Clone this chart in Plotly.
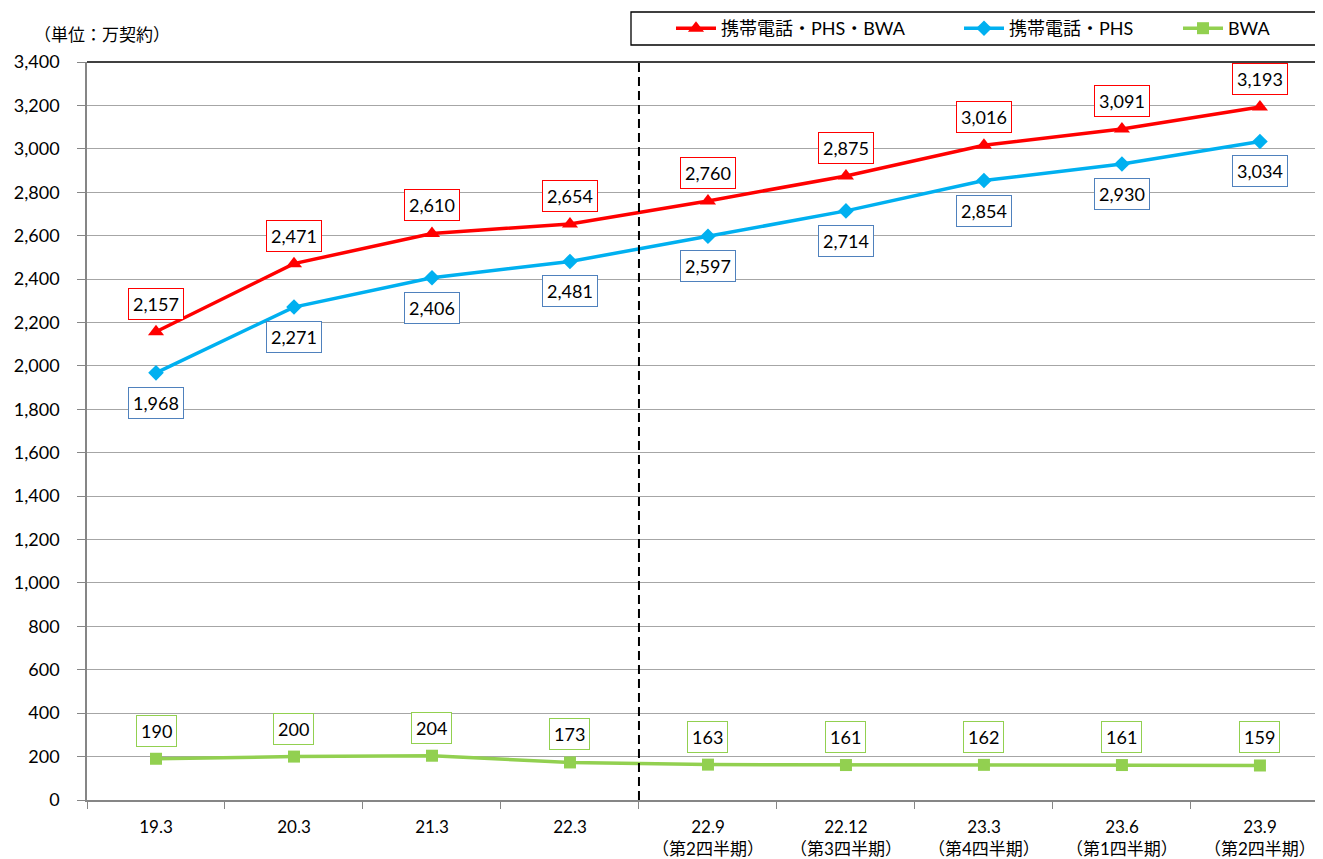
import plotly.graph_objects as go

categories = ["19.3", "20.3", "21.3", "22.3", "22.9", "22.12", "23.3", "23.6", "23.9"]
sub_labels = ["", "", "", "", "（第2四半期）", "（第3四半期）", "（第4四半期）", "（第1四半期）", "（第2四半期）"]
total = [2157, 2471, 2610, 2654, 2760, 2875, 3016, 3091, 3193]
mobile = [1968, 2271, 2406, 2481, 2597, 2714, 2854, 2930, 3034]
bwa = [190, 200, 204, 173, 163, 161, 162, 161, 159]
y_ticks = list(range(0, 3401, 200))

FONT = "Lato, 'Noto Sans CJK JP', sans-serif"
RED = "#FF0000"
BLUE = "#00B0F0"
GREEN = "#92D050"

# plot-area geometry in page pixels (page body has an 8px margin)
PX_L, PX_R, PX_T, PX_B = 87, 1323, 62, 800
def px2x(px):
    return (px - PX_L) / (PX_R - PX_L)
def px2y(py):
    return (PX_B - py) / (PX_B - PX_T)

tick_text = [c if not s else f"{c}<br>{s}" for c, s in zip(categories, sub_labels)]

fig = go.Figure()
fig.add_trace(go.Scatter(x=categories, y=total, mode="lines+markers", name="携帯電話・PHS・BWA",
                         line=dict(color=RED, width=3.5), legend="legend",
                         marker=dict(symbol="triangle-up", size=14, color=RED)))
fig.add_trace(go.Scatter(x=categories, y=mobile, mode="lines+markers", name="携帯電話・PHS",
                         line=dict(color=BLUE, width=3.5), legend="legend2",
                         marker=dict(symbol="diamond", size=12, color=BLUE)))
fig.add_trace(go.Scatter(x=categories, y=bwa, mode="lines+markers", name="BWA",
                         line=dict(color=GREEN, width=3.5), legend="legend3",
                         marker=dict(symbol="square", size=12, color=GREEN)))

annotations = []
def add_labels(vals, border, shift):
    for i, v in enumerate(vals):
        annotations.append(dict(x=i, y=v, xref="x", yref="y", text=f"{v:,}", showarrow=False,
                                yshift=shift, bgcolor="white", bordercolor=border, borderwidth=1,
                                borderpad=4, font=dict(family=FONT, size=18, color="black")))

add_labels(total, RED, 28)
add_labels(mobile, "#4F81BD", -30)
add_labels(bwa, GREEN, 28)

annotations.append(dict(x=px2x(32), y=px2y(35), xref="paper", yref="paper", text="（単位：万契約）",
                        showarrow=False, xanchor="left", yanchor="middle",
                        font=dict(family=FONT, size=17, color="black")))

leg_common = dict(orientation="h", yanchor="middle", xanchor="left", borderwidth=0,
                  bgcolor="rgba(0,0,0,0)", font=dict(family=FONT, size=18, color="black"),
                  itemwidth=40)
leg_y = px2y(28.5)

fig.update_layout(
    width=1315, height=851,
    margin=dict(l=79, r=0, t=54, b=59, autoexpand=False),
    paper_bgcolor="white", plot_bgcolor="white",
    font=dict(family=FONT, size=17, color="black"),
    showlegend=True,
    legend=dict(x=px2x(671), y=leg_y, **leg_common),
    legend2=dict(x=px2x(959), y=leg_y, **leg_common),
    legend3=dict(x=px2x(1178), y=leg_y, **leg_common),
    annotations=annotations,
    shapes=[
        dict(type="rect", xref="paper", yref="paper", x0=px2x(631), x1=px2x(1317),
             y0=px2y(45), y1=px2y(12), line=dict(color="black", width=1.3),
             fillcolor="rgba(0,0,0,0)", layer="below"),
        dict(type="line", xref="x", yref="paper", x0=3.5, x1=3.5, y0=0, y1=1,
             line=dict(color="black", width=2, dash="9px,5px")),
        dict(type="line", xref="paper", yref="paper", x0=0, x1=1, y0=1, y1=1,
             line=dict(color="black", width=1.5)),
    ],
)
fig.update_xaxes(type="category", categoryorder="array", categoryarray=categories,
                 range=[-0.5, 8.457], tickmode="array", tickvals=categories, ticktext=tick_text,
                 tickson="boundaries", ticks="outside", ticklen=7, tickcolor="#868686",
                 showline=True, linecolor="#868686", linewidth=1.5, showgrid=False,
                 tickfont=dict(family=FONT, size=17), zeroline=False, ticklabelstandoff=11)
fig.update_yaxes(range=[0, 3400], tickvals=y_ticks, ticktext=[f"{t:,}" for t in y_ticks],
                 ticks="outside", ticklen=8, tickcolor="#868686",
                 showline=True, linecolor="#868686", linewidth=1.5,
                 showgrid=True, gridcolor="#A6A6A6", gridwidth=1, zeroline=False,
                 tickfont=dict(family=FONT, size=18), ticklabelstandoff=14)

fig.write_html("out.html")
